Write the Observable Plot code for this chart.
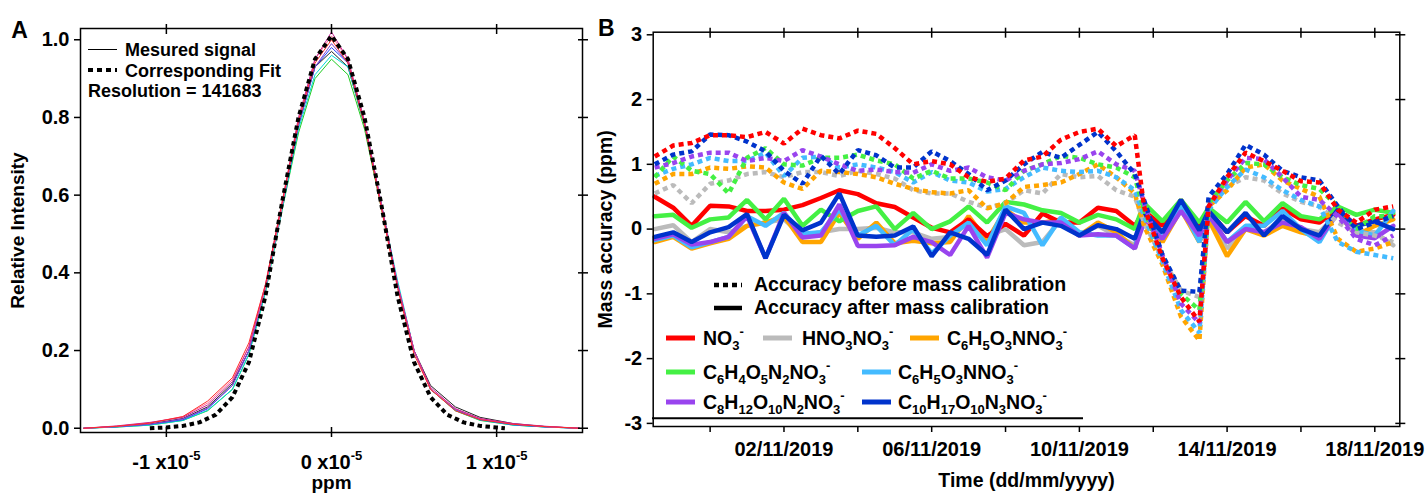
<!DOCTYPE html>
<html><head><meta charset="utf-8">
<script src="https://cdn.jsdelivr.net/npm/d3@7"></script>
<script src="https://cdn.jsdelivr.net/npm/@observablehq/plot@0.6"></script>
<style>
html,body{margin:0;padding:0;background:#fff;overflow:hidden;}
#wrap{display:flex;width:1428px;height:495px;}
#wrap svg{display:block;flex:none;max-width:none;}
</style></head><body><div id="wrap"></div>
<script>
// ---------------- Panel A data (x in units of 1e-5 ppm) ----------------
const ppmGrid = [-1.5,-1.3,-1.1,-0.9,-0.75,-0.6,-0.5,-0.4,-0.3,-0.2,-0.1,0,0.1,0.2,0.3,0.4,0.5,0.6,0.75,0.9,1.1,1.3,1.5];
const sigRed     = [0,0.005,0.013,0.03,0.07,0.13,0.22,0.37,0.58,0.79,0.94,1.00,0.94,0.78,0.57,0.36,0.19,0.10,0.045,0.022,0.01,0.004,0];
const sigMagenta = [0,0.006,0.015,0.028,0.06,0.12,0.21,0.37,0.58,0.80,0.95,1.02,0.95,0.79,0.58,0.37,0.20,0.105,0.05,0.025,0.012,0.005,0];
const sigPink    = [0,0.005,0.014,0.03,0.065,0.125,0.21,0.36,0.57,0.79,0.95,1.01,0.95,0.79,0.58,0.37,0.20,0.10,0.05,0.024,0.011,0.004,0];
const sigBlue    = [0,0.004,0.01,0.022,0.05,0.11,0.20,0.36,0.57,0.78,0.93,0.98,0.94,0.79,0.58,0.37,0.20,0.10,0.048,0.022,0.009,0.003,0];
const sigGreen   = [0,0.003,0.008,0.02,0.045,0.10,0.19,0.35,0.56,0.76,0.90,0.95,0.91,0.77,0.57,0.37,0.20,0.10,0.045,0.02,0.008,0.003,0];
const sigCyan    = [0,0.003,0.008,0.02,0.046,0.10,0.19,0.35,0.56,0.77,0.91,0.96,0.93,0.78,0.58,0.38,0.20,0.10,0.046,0.021,0.008,0.003,0];
const sigPurple  = [0,0.004,0.01,0.024,0.052,0.11,0.20,0.36,0.57,0.78,0.93,0.99,0.94,0.79,0.58,0.37,0.20,0.10,0.05,0.024,0.01,0.004,0];
const sigBlack   = [0,0.004,0.011,0.025,0.055,0.115,0.20,0.36,0.57,0.78,0.93,0.97,0.93,0.78,0.58,0.37,0.20,0.11,0.055,0.028,0.012,0.004,0];
const signalSeries = [sigBlack, sigGreen, sigCyan, sigBlue, sigPurple, sigPink, sigMagenta, sigRed];
const signalColors = ["#222222","#22cc22","#00d8d8","#2244ff","#8844cc","#ff7090","#cc2299","#ff2a2a"];
const fitGrid   = [-1.1,-1.0,-0.9,-0.8,-0.7,-0.6,-0.5,-0.4,-0.3,-0.2,-0.1,0,0.1,0.2,0.3,0.4,0.5,0.6,0.7,0.8,0.9,1.0,1.05];
const fitValues = [0,0.002,0.006,0.015,0.035,0.08,0.17,0.34,0.58,0.80,0.95,1.01,0.95,0.80,0.58,0.34,0.17,0.08,0.035,0.015,0.006,0.002,0];
const ppmTicks = [-1, 0, 1];
const intensityTicks = [0, 0.2, 0.4, 0.6, 0.8, 1.0];

// ---------------- Panel B data ----------------
const times = ["2019-10-29T12:00","2019-10-30T00:00","2019-10-30T12:00","2019-10-31T00:00","2019-10-31T12:00",
  "2019-11-01T00:00","2019-11-01T12:00","2019-11-02T00:00","2019-11-02T12:00","2019-11-03T00:00",
  "2019-11-03T12:00","2019-11-04T00:00","2019-11-04T12:00","2019-11-05T00:00","2019-11-05T12:00",
  "2019-11-06T00:00","2019-11-06T12:00","2019-11-07T00:00","2019-11-07T12:00","2019-11-08T00:00",
  "2019-11-08T12:00","2019-11-09T00:00","2019-11-09T12:00","2019-11-10T00:00","2019-11-10T12:00",
  "2019-11-11T00:00","2019-11-11T12:00","2019-11-11T18:00","2019-11-12T06:00","2019-11-12T18:00",
  "2019-11-13T06:00","2019-11-13T12:00","2019-11-14T00:00","2019-11-14T12:00","2019-11-15T00:00",
  "2019-11-15T12:00","2019-11-16T00:00","2019-11-16T12:00","2019-11-17T00:00","2019-11-17T12:00",
  "2019-11-18T00:00","2019-11-18T12:00"];
// after mass calibration (solid)
const afterNO3     = [0.50,0.33,0.05,0.36,0.35,0.28,0.28,0.30,0.37,0.48,0.60,0.54,0.40,0.34,0.18,0.02,-0.05,0.15,-0.11,0.08,-0.10,0.24,0.10,0.10,0.33,0.28,0.05,0.28,0.05,0.45,0.03,0.28,-0.05,0.20,0.05,0.32,0.15,0.10,0.30,0.05,0.15,0.22];
const afterHNO3    = [0.00,0.06,-0.20,0.00,-0.05,0.05,0.10,0.15,-0.10,-0.05,0.00,0.00,0.02,-0.05,-0.05,-0.15,-0.12,0.10,-0.10,0.00,-0.25,-0.20,0.15,-0.08,0.05,-0.10,-0.25,0.20,-0.05,0.30,-0.10,0.20,-0.30,0.00,-0.05,0.15,0.00,-0.05,0.25,-0.05,-0.05,-0.25];
const afterC6H5a   = [-0.20,-0.12,-0.30,-0.22,-0.15,0.05,0.10,0.20,-0.20,-0.20,0.25,-0.15,0.10,-0.22,-0.18,-0.22,-0.20,0.20,-0.18,0.30,0.10,0.10,0.15,-0.10,0.10,-0.05,-0.30,0.25,-0.20,0.30,-0.20,0.15,-0.42,0.00,-0.10,0.05,-0.05,-0.12,0.25,-0.10,0.05,0.15];
const afterC6H4    = [0.20,0.22,0.02,0.15,0.18,0.45,0.15,0.47,0.05,0.30,0.12,0.28,0.35,0.00,0.25,0.00,0.12,0.35,0.10,0.42,0.38,0.29,0.25,0.10,0.22,0.15,0.00,0.40,0.12,0.45,0.10,0.33,0.10,0.42,0.12,0.40,0.20,0.15,0.35,0.22,0.30,0.25];
const afterC6H5b   = [-0.17,-0.10,-0.28,-0.20,-0.12,0.20,0.05,0.25,-0.07,-0.05,0.30,-0.10,0.05,-0.25,0.00,-0.38,-0.10,0.10,-0.25,0.35,0.25,-0.25,0.18,-0.05,-0.10,-0.10,-0.30,0.30,-0.15,0.36,-0.20,0.22,-0.20,0.05,0.05,0.28,0.00,-0.20,0.28,-0.02,-0.10,0.28];
const afterC8      = [-0.15,-0.08,-0.24,-0.20,-0.12,0.20,-0.45,0.25,-0.13,-0.10,0.38,-0.26,-0.26,-0.25,-0.12,-0.20,-0.40,0.05,-0.44,0.25,0.15,0.10,0.10,-0.10,-0.08,-0.10,-0.30,0.10,-0.15,0.28,-0.10,0.22,-0.20,0.00,-0.05,0.10,0.03,-0.15,0.25,-0.10,-0.14,0.05];
const afterC10     = [-0.12,-0.05,-0.20,-0.05,0.03,0.23,-0.45,0.22,-0.02,0.10,0.55,-0.10,-0.12,-0.10,0.04,-0.42,-0.05,-0.15,-0.40,0.30,0.00,0.10,0.05,-0.10,0.06,0.00,-0.15,0.25,-0.05,0.45,-0.02,0.28,-0.05,0.25,-0.10,0.20,0.00,-0.10,0.30,0.05,0.12,0.00];
// before mass calibration (dotted)
const beforeNO3    = [1.12,1.29,1.33,1.45,1.45,1.42,1.50,1.32,1.55,1.45,1.40,1.52,1.47,1.25,1.00,1.05,1.00,0.80,0.73,0.78,1.06,1.12,1.38,1.50,1.55,1.28,1.45,0.35,-0.45,-1.05,-1.43,0.35,0.80,1.18,1.05,0.90,0.74,0.72,0.30,0.10,0.30,0.35];
const beforeHNO3   = [0.55,0.68,0.40,0.70,0.75,0.85,0.88,0.80,0.88,0.88,0.82,0.90,0.85,0.78,0.60,0.55,0.55,0.42,0.33,0.40,0.60,0.55,0.85,0.80,0.82,0.60,0.50,0.10,-0.45,-0.95,-1.05,0.45,0.65,0.80,0.75,0.55,0.42,0.35,0.10,-0.05,-0.10,-0.20];
const beforeC6H5a  = [0.70,0.85,0.85,0.95,0.93,0.97,0.95,0.72,0.62,0.90,0.88,0.85,0.80,0.70,0.62,0.57,0.55,0.60,0.32,0.40,0.65,0.68,0.72,0.85,1.00,0.80,0.55,0.05,-0.55,-1.35,-1.72,0.35,0.60,0.95,1.00,0.75,0.62,0.50,-0.15,-0.35,-0.30,-0.20];
const beforeC6H4   = [0.80,1.12,0.90,0.85,0.55,1.10,1.25,1.00,0.98,1.10,1.10,1.15,1.06,1.00,0.78,0.90,0.78,0.78,0.72,0.60,0.90,1.00,1.13,1.10,1.00,0.95,0.80,0.30,-0.40,-1.00,-1.25,0.40,0.75,1.02,1.00,0.80,0.68,0.62,0.35,0.00,0.20,0.20];
const beforeC6H5b  = [0.82,0.93,1.00,1.10,1.05,1.05,1.18,0.82,1.10,1.12,0.95,1.00,0.95,0.88,0.72,0.88,0.75,0.72,0.58,0.62,0.80,0.95,0.90,0.88,0.90,0.80,0.60,0.20,-0.50,-1.25,-1.60,0.30,0.65,0.92,0.80,0.60,0.45,0.35,-0.20,-0.35,-0.40,-0.45];
const beforeC8     = [0.95,1.02,1.12,1.18,1.18,1.05,1.10,1.05,1.22,1.12,1.00,0.90,0.92,0.88,0.87,1.00,0.90,0.95,0.80,0.75,0.90,1.00,1.02,1.08,1.20,1.00,0.90,0.40,-0.40,-1.15,-1.45,0.35,0.75,1.10,1.08,0.80,0.50,0.45,0.20,-0.15,-0.25,-0.10];
const beforeC10    = [1.00,1.15,1.20,1.46,1.45,1.35,1.20,0.90,0.70,1.13,0.85,1.22,1.14,0.95,0.95,1.20,1.05,0.85,0.60,0.75,1.00,1.19,1.10,1.30,1.50,1.20,0.85,0.45,-0.40,-0.95,-0.97,0.50,0.85,1.30,1.15,0.90,0.80,0.75,0.35,0.00,0.10,0.20];

const speciesLabels = ["NO_3^-","HNO_3NO_3^-","C_6H_5O_3NNO_3^-","C_6H_4O_5N_2NO_3^-","C_6H_5O_3NNO_3^-","C_8H_12O_10N_2NO_3^-","C_10H_17O_10N_3NO_3^-"];
const speciesColors = ["#ff0000","#bbbbbb","#ffa500","#44f044","#44bbff","#9944ee","#0033cc"];
const afterSeries  = [afterNO3, afterHNO3, afterC6H5a, afterC6H4, afterC6H5b, afterC8, afterC10];
const beforeSeries = [beforeNO3, beforeHNO3, beforeC6H5a, beforeC6H4, beforeC6H5b, beforeC8, beforeC10];
const drawOrderAfter  = [1, 2, 0, 3, 4, 5, 6];
const drawOrderBefore = [1, 2, 4, 3, 5, 6, 0];
const accuracyTicks = [-3, -2, -1, 0, 1, 2, 3];
const dateTickMarks = ["2019-10-31","2019-11-02","2019-11-04","2019-11-06","2019-11-08","2019-11-10","2019-11-12","2019-11-14","2019-11-16","2019-11-18"];
const dateTickLabels = ["2019-11-02","2019-11-06","2019-11-10","2019-11-14","2019-11-18"];

// ---------------- helpers ----------------
const FONT = "'Liberation Sans', Arial, Helvetica, sans-serif";
const NS = "http://www.w3.org/2000/svg";
function rich(textEl, s, small) {
  const parts = s.match(/_[0-9]+|\^[-+0-9]+|[^_^]+/g);
  textEl.textContent = "";
  let off = 0;
  for (const p of parts) {
    let t = p, target = 0, size = null;
    if (p[0] === "_") { t = p.slice(1); target = 5; size = small; }
    else if (p[0] === "^") { t = p.slice(1); target = -9; size = small; }
    const ts = document.createElementNS(NS, "tspan");
    ts.textContent = t;
    if (target !== off) ts.setAttribute("dy", target - off);
    if (size) ts.setAttribute("font-size", size);
    off = target;
    textEl.appendChild(ts);
  }
}
const toDate = s => new Date(s.length > 10 ? s + ":00Z" : s + "T00:00:00Z");

// ---------------- Panel A ----------------
const svgA = Plot.plot({
  width: 595, height: 495,
  marginLeft: 80, marginRight: 13, marginTop: 28, marginBottom: 63,
  x: {domain: [-1.52, 1.52]},
  y: {domain: [-0.011, 1.029]},
  style: {fontFamily: FONT, fontWeight: "bold", fontSize: "20px", color: "black", background: "white", overflow: "visible"},
  marks: [
    ...signalSeries.map((vals, k) => Plot.line(ppmGrid.map((x, i) => ({x, y: vals[i]})), {x: "x", y: "y", stroke: signalColors[k], strokeWidth: 1})),
    Plot.line(fitGrid.map((x, i) => ({x, y: fitValues[i]})), {x: "x", y: "y", stroke: "black", strokeWidth: 4, strokeDasharray: "4.5,3.5", strokeLinecap: "butt"}),
    Plot.frame({stroke: "black", strokeWidth: 1.5}),
    Plot.axisY(intensityTicks, {anchor: "left", tickSize: 6, tickPadding: 5, tickFormat: d3.format(".1f"), label: null, strokeWidth: 1.5}),
    Plot.axisY(intensityTicks, {anchor: "right", tickSize: 10, dx: -5, tickFormat: () => "", label: null, strokeWidth: 1.5}),
    Plot.axisX(ppmTicks, {anchor: "top", tickSize: 10, dy: 5, tickFormat: () => "", label: null, strokeWidth: 1.5}),
    Plot.axisX(ppmTicks, {anchor: "bottom", tickSize: 10, dy: -5, tickFormat: () => "", label: null, strokeWidth: 1.5}),
    Plot.axisX(ppmTicks, {anchor: "bottom", tickSize: 0, tickPadding: 22, tickFormat: d => `${d} x10^-5`, label: null}),
    Plot.text(["Relative Intensity"], {text: d => d, frameAnchor: "left", dx: -63, rotate: -90, textAnchor: "middle", lineAnchor: "middle", fontSize: 19, fontWeight: "bold"}),
    Plot.text(["ppm"], {text: d => d, frameAnchor: "bottom", dy: 50, textAnchor: "middle", lineAnchor: "middle", fontSize: 19, fontWeight: "bold"}),
    Plot.text(["A"], {text: d => d, frameAnchor: "top-left", dx: -61, dy: 2, textAnchor: "middle", lineAnchor: "middle", fontSize: 23, fontWeight: "bold"})
  ]
});
d3.select(svgA).selectAll("text").each(function() {
  if (this.textContent.includes("^")) rich(this, this.textContent, 13);
});
{
  const g = d3.select(svgA).append("g").attr("font-family", FONT).attr("font-weight", "bold").attr("font-size", 18).attr("fill", "black").attr("text-anchor", "start");
  g.append("line").attr("x1", 88).attr("x2", 117).attr("y1", 49.5).attr("y2", 49.5).attr("stroke", "black").attr("stroke-width", 1);
  g.append("text").attr("x", 125).attr("y", 55.5).text("Mesured signal");
  g.append("line").attr("x1", 88).attr("x2", 117).attr("y1", 70).attr("y2", 70).attr("stroke", "black").attr("stroke-width", 4).attr("stroke-dasharray", "5,4");
  g.append("text").attr("x", 125).attr("y", 77).text("Corresponding Fit");
  g.append("text").attr("x", 88).attr("y", 97).text("Resolution = 141683");
}

// ---------------- Panel B ----------------
const T = times.map(toDate);
const lineData = vals => T.map((t, i) => ({t, v: vals[i]}));
const svgB = Plot.plot({
  width: 833, height: 495,
  marginLeft: 57.7, marginRight: 28.7, marginTop: 31.7, marginBottom: 69,
  x: {type: "utc", domain: [new Date("2019-10-29T11:00:00Z"), new Date("2019-11-18T16:15:00Z")]},
  y: {domain: [-3.048, 3.04]},
  style: {fontFamily: FONT, fontWeight: "bold", fontSize: "20px", color: "black", background: "white", overflow: "visible"},
  marks: [
    ...drawOrderAfter.map(k => Plot.line(lineData(afterSeries[k]), {x: "t", y: "v", stroke: speciesColors[k], strokeWidth: 4.5, strokeLinejoin: "miter"})),
    ...drawOrderBefore.map(k => Plot.line(lineData(beforeSeries[k]), {x: "t", y: "v", stroke: speciesColors[k], strokeWidth: 4.5, strokeDasharray: "5,4", strokeLinecap: "butt", strokeLinejoin: "miter"})),
    Plot.frame({stroke: "black", strokeWidth: 1.5}),
    Plot.axisY(accuracyTicks, {anchor: "left", tickSize: 6, tickPadding: 5, tickFormat: d => String(d), label: null, strokeWidth: 1.5}),
    Plot.axisY(accuracyTicks, {anchor: "right", tickSize: 10, dx: -5, tickFormat: () => "", label: null, strokeWidth: 1.5}),
    Plot.axisX(dateTickMarks.map(toDate), {anchor: "top", tickSize: 10, dy: 5, tickFormat: () => "", label: null, strokeWidth: 1.5}),
    Plot.axisX(dateTickMarks.map(toDate), {anchor: "bottom", tickSize: 6, tickFormat: () => "", label: null, strokeWidth: 1.5}),
    Plot.axisX(dateTickLabels.map(toDate), {anchor: "bottom", tickSize: 0, tickPadding: 15, tickFormat: d3.utcFormat("%d/%m/%Y"), label: null}),
    Plot.text(["Mass accuracy (ppm)"], {text: d => d, frameAnchor: "left", dx: -47, rotate: -90, textAnchor: "middle", lineAnchor: "middle", fontSize: 19.5, fontWeight: "bold"}),
    Plot.text(["Time (dd/mm/yyyy)"], {text: d => d, frameAnchor: "bottom", dy: 54, textAnchor: "middle", lineAnchor: "middle", fontSize: 19.5, fontWeight: "bold"}),
    Plot.text(["B"], {text: d => d, frameAnchor: "top-left", dx: -47, dy: -4, textAnchor: "middle", lineAnchor: "middle", fontSize: 23, fontWeight: "bold"})
  ]
});
{
  const g = d3.select(svgB).append("g").attr("font-family", FONT).attr("font-weight", "bold").attr("font-size", 19.5).attr("fill", "black").attr("text-anchor", "start");
  g.append("line").attr("x1", 119).attr("x2", 147).attr("y1", 285).attr("y2", 285).attr("stroke", "black").attr("stroke-width", 4.5).attr("stroke-dasharray", "5,4");
  g.append("text").attr("x", 159).attr("y", 291).text("Accuracy before mass calibration");
  g.append("line").attr("x1", 119).attr("x2", 147).attr("y1", 308).attr("y2", 308).attr("stroke", "black").attr("stroke-width", 4.5);
  g.append("text").attr("x", 159).attr("y", 314).text("Accuracy after mass calibration");
  const slots = [[71, 338, 108], [168, 338, 207], [315, 338, 352], [71, 372, 108], [267, 372, 303], [71, 402, 108], [267, 402, 303]];
  speciesLabels.forEach((lab, k) => {
    const [sx, sy, tx] = slots[k];
    g.append("line").attr("x1", sx).attr("x2", sx + 29).attr("y1", sy).attr("y2", sy).attr("stroke", speciesColors[k]).attr("stroke-width", 5);
    const t = g.append("text").attr("x", tx).attr("y", sy + 7).node();
    rich(t, lab, 13);
  });
  g.append("line").attr("x1", 57).attr("x2", 488).attr("y1", 418.3).attr("y2", 418.3).attr("stroke", "black").attr("stroke-width", 2);
}
document.getElementById("wrap").append(svgA, svgB);
</script></body></html>
